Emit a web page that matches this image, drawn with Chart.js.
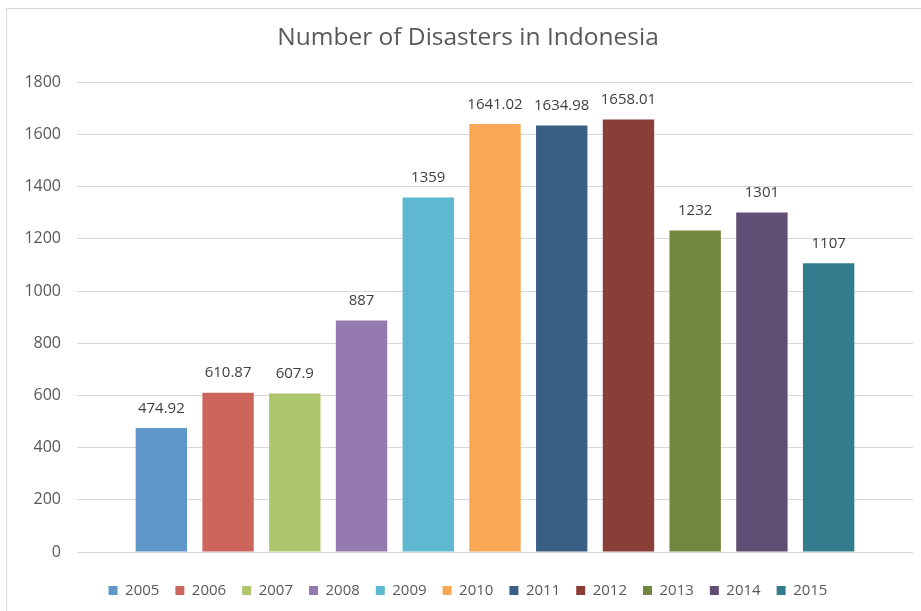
<!DOCTYPE html>
<html>
<head>
<meta charset="utf-8">
<script src="https://cdn.jsdelivr.net/npm/chart.js@4/dist/chart.umd.min.js"></script>
<style>
  html, body { margin: 0; padding: 0; background: #fff; overflow: hidden; }
  #frame { position: absolute; left: 6px; top: 8px; width: 940px; height: 640px; border: 1px solid #d9d9d9; }
  #wrap { position: absolute; left: 0; top: 0; width: 921px; height: 611px; }
</style>
</head>
<body>
<div id="frame"></div>
<div id="wrap"><canvas id="chart"></canvas></div>
<script>
const years = ["2005", "2006", "2007", "2008", "2009", "2010", "2011", "2012", "2013", "2014", "2015"];
const disasters = [474.92, 610.87, 607.9, 887, 1359, 1641.02, 1634.98, 1658.01, 1232, 1301, 1107];
const colors = ["#6097c9", "#cc665d", "#adc66c", "#957ab0", "#5db8d0", "#f9a655",
                "#3a5f84", "#893f38", "#71873e", "#614e74", "#327c8d"];
const yTicks = [0, 200, 400, 600, 800, 1000, 1200, 1400, 1600, 1800];

const fontFamily = "'Open Sans', Lato, sans-serif";

// small inline plugin for the value labels above each bar
const valueLabels = {
  id: "valueLabels",
  afterDatasetsDraw(chart) {
    const ctx = chart.ctx;
    ctx.save();
    ctx.font = "15px " + fontFamily;
    ctx.fillStyle = "#404040";
    ctx.textAlign = "center";
    ctx.textBaseline = "bottom";
    chart.data.datasets.forEach((ds, i) => {
      const meta = chart.getDatasetMeta(i);
      meta.data.forEach((bar, j) => {
        ctx.fillText(String(ds.data[j]), bar.x, bar.y - 12);
      });
    });
    ctx.restore();
  }
};

new Chart(document.getElementById("chart"), {
  type: "bar",
  data: {
    labels: [""],
    datasets: years.map((y, i) => ({
      label: y,
      data: [disasters[i]],
      backgroundColor: colors[i],
      borderWidth: 0
    }))
  },
  options: {
    responsive: true,
    maintainAspectRatio: false,
    animation: false,
    categoryPercentage: 0.878,
    barPercentage: 0.77,
    layout: { padding: { left: 23, right: 8, top: 8, bottom: 3 } },
    plugins: {
      title: {
        display: true,
        text: "Number of Disasters in Indonesia",
        color: "#595959",
        font: { family: fontFamily, size: 24.5, weight: "normal" },
        padding: { top: 15, bottom: 30 }
      },
      legend: {
        position: "bottom",
        labels: {
          color: "#595959",
          font: { family: fontFamily, size: 15 },
          boxWidth: 9,
          boxHeight: 9,
          padding: 16
        }
      },
      tooltip: { enabled: false }
    },
    scales: {
      x: {
        grid: { display: false },
        border: { display: false },
        ticks: { display: false },
        afterFit: axis => { axis.height = 15; }
      },
      y: {
        min: 0,
        max: 1800,
        afterBuildTicks: axis => { axis.ticks = yTicks.map(v => ({ value: v })); },
        afterFit: axis => { axis.width = 54; },
        grid: { color: "#d9d9d9", drawTicks: false },
        border: { display: false },
        ticks: {
          color: "#595959",
          font: { family: fontFamily, size: 16 },
          padding: 16,
          callback: v => String(v)
        }
      }
    }
  },
  plugins: [valueLabels]
});
</script>
</body>
</html>
